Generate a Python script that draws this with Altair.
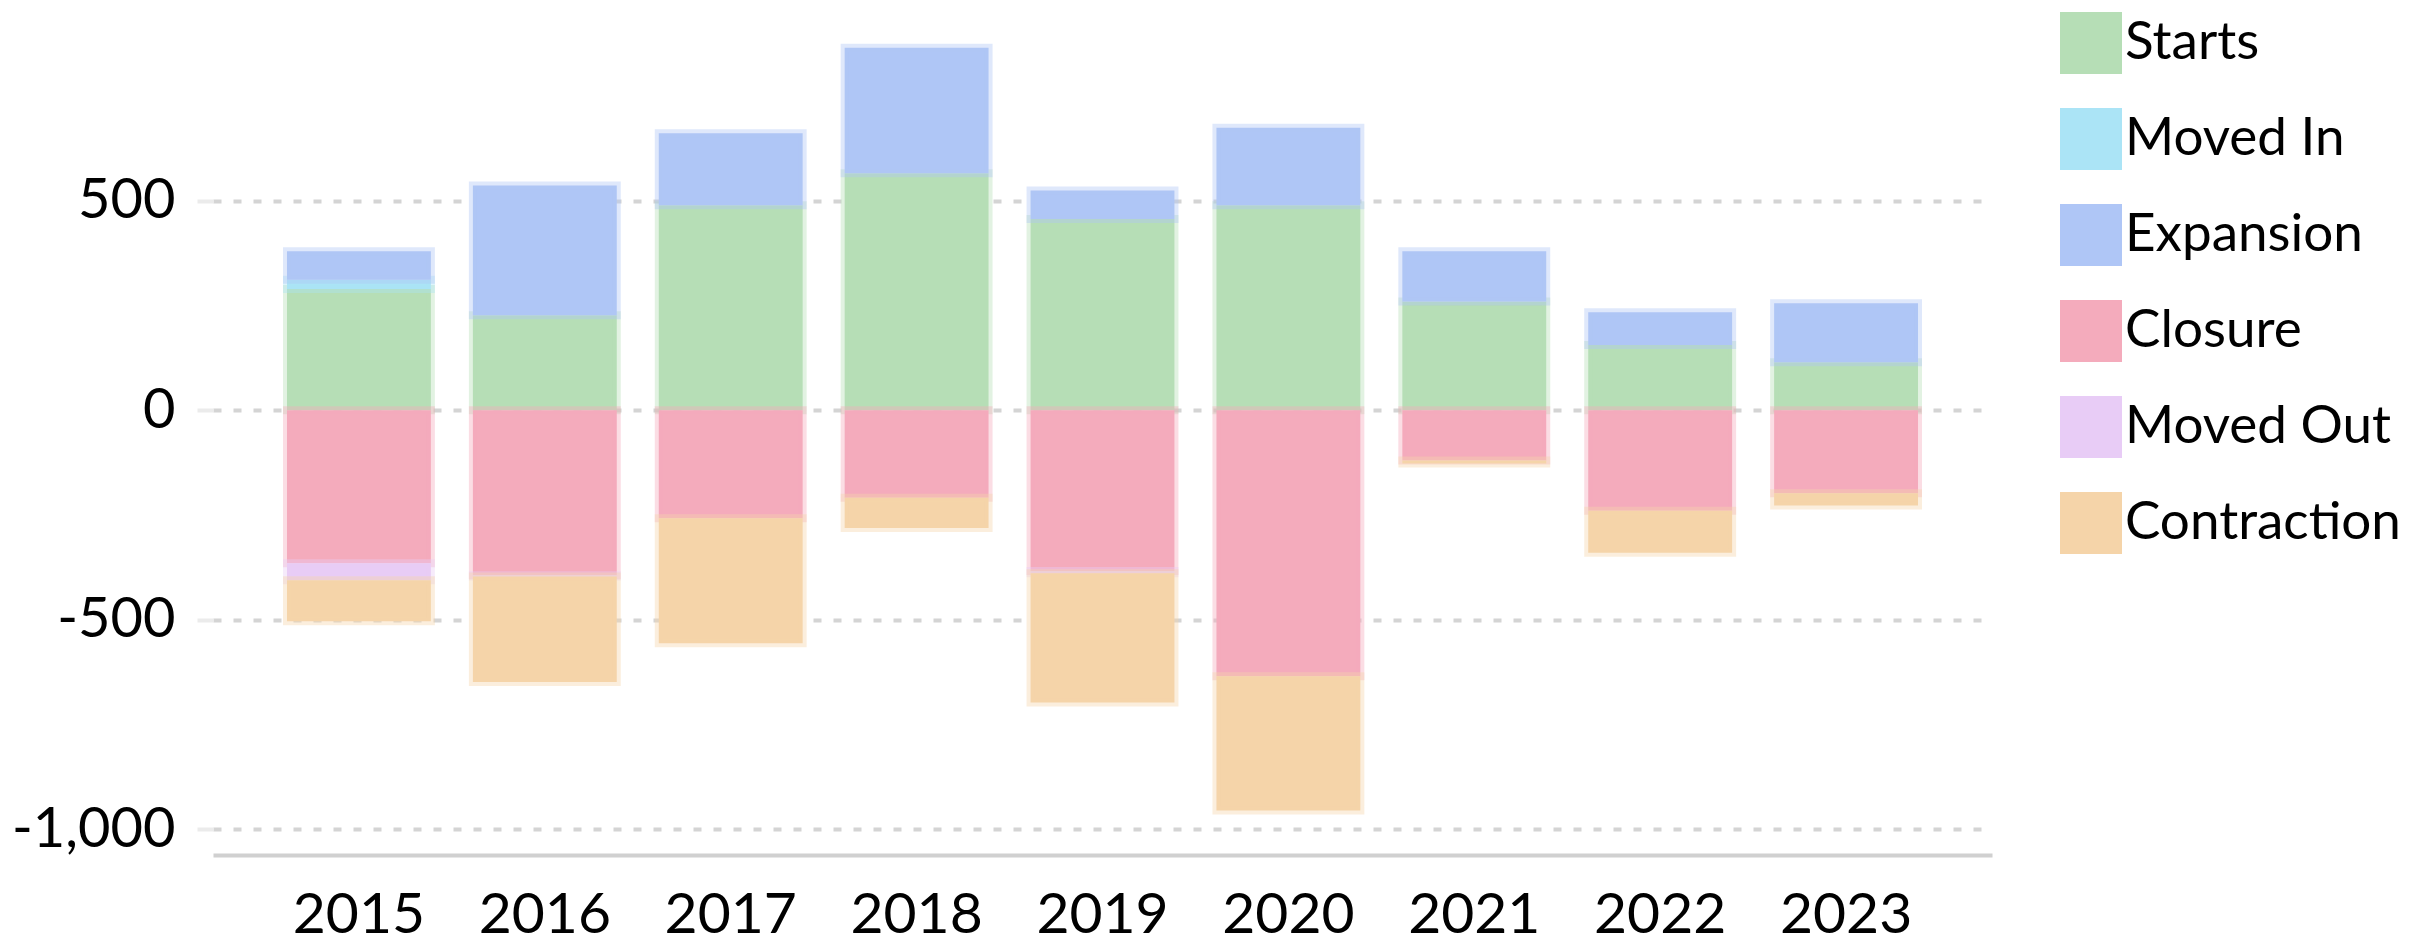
import altair as alt
import pandas as pd

years = ["2015", "2016", "2017", "2018", "2019", "2020", "2021", "2022", "2023"]
series = ["Starts", "Moved In", "Expansion", "Closure", "Moved Out", "Contraction"]
colors = ["#b6deb6", "#abe4f6", "#afc6f6", "#f4abbc", "#e8ccf6", "#f5d4a9"]

starts      = [290, 227, 490, 566, 457, 490, 260, 156, 115]
moved_in    = [22, 0, 0, 0, 0, 0, 0, 0, 0]
expansion   = [68, 310, 172, 300, 68, 185, 120, 78, 141]
closure     = [-365, -394, -258, -209, -384, -635, -120, -240, -198]
moved_out   = [-41, -3, 0, 0, -5, 0, 0, 0, 0]
contraction = [-98, -252, -298, -72, -309, -321, -7, -100, -29]

values = [starts, moved_in, expansion, closure, moved_out, contraction]

rows = []
for si, (name, vals) in enumerate(zip(series, values)):
    for y, v in zip(years, vals):
        if v != 0:
            rows.append({"year": y, "type": name, "value": v, "order": si})
df = pd.DataFrame(rows)

scale = alt.Scale(domain=series, range=colors)

chart = alt.Chart(df).mark_bar(strokeWidth=8, strokeOpacity=0.4).encode(
    x=alt.X("year:N", sort=years, title=None,
            scale=alt.Scale(paddingInner=0.226, paddingOuter=0.398),
            axis=alt.Axis(labelAngle=0, ticks=False, tickSize=0, labelPadding=32,
                          domain=True, domainColor="#d0d0d0", domainWidth=4,
                          grid=False, labelFontSize=57, labelFont="Lato",
                          labelColor="#000000")),
    y=alt.Y("value:Q", stack="zero", title=None,
            scale=alt.Scale(domain=[-1062, 937], nice=False, zero=False),
            axis=alt.Axis(values=[-1000, -500, 0, 500], domain=False,
                          ticks=True, tickColor="#ebebeb", tickSize=16, tickWidth=4,
                          grid=True, gridColor="#d4d4d4", gridDash=[8, 12], gridWidth=4,
                          labelFontSize=56, labelFont="Lato", labelColor="#000000",
                          labelPadding=22,
                          labelExpr="datum.value < 0 ? '-' + format(-datum.value, ',') : format(datum.value, ',')")),
    color=alt.Color("type:N", scale=scale, sort=series, title=None,
                    legend=alt.Legend(orient="none", legendX=1847, legendY=-6,
                                      symbolType="square", symbolSize=3844,
                                      symbolStrokeWidth=0, symbolOpacity=1,
                                      labelFontSize=53, labelFont="Lato",
                                      labelColor="#000000", labelOffset=3,
                                      rowPadding=34, padding=0, labelLimit=600)),
    stroke=alt.Stroke("type:N", scale=scale, sort=series, legend=None),
    order=alt.Order("order:Q"),
).properties(
    width=1779,
    height=837,
    autosize=alt.AutoSizeParams(type="none"),
    padding={"left": 205, "top": 10, "right": 420, "bottom": 95},
).configure_view(stroke=None)

chart.save("out.html", embed_options={"renderer": "svg", "actions": False})
